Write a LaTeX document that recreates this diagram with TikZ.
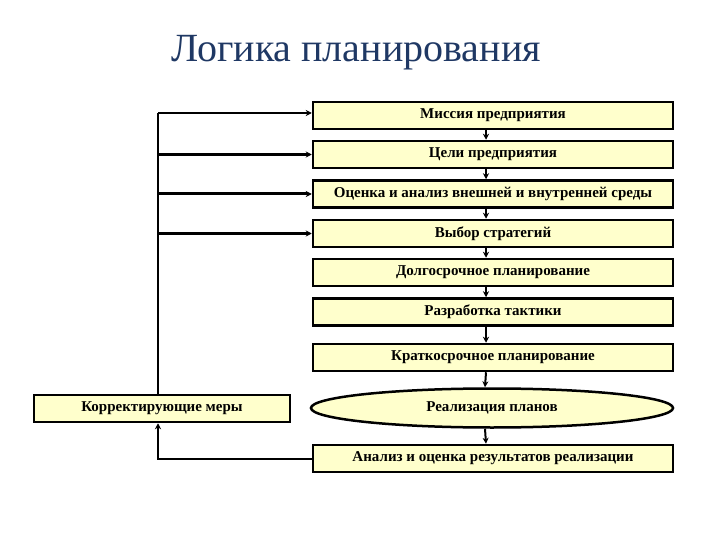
\documentclass[tikz,border=0pt]{standalone}
\usepackage{fontspec}
\setmainfont{Liberation Serif}
\usetikzlibrary{positioning}
\usetikzlibrary{shapes.geometric}
\usetikzlibrary{arrows.meta}

\definecolor{stagefill}{RGB}{255,255,204}
\definecolor{titleblue}{RGB}{31,56,100}

\tikzset{
  stage/.style={draw, line width=2.5pt, fill=stagefill, minimum width=360pt,
    minimum height=27pt, inner sep=0pt, font=\bfseries\fontsize{15}{17}\selectfont},
  flow/.style={-{Stealth[length=6pt,width=6pt]}, line width=2pt},
}

\begin{document}
\begin{tikzpicture}[x=1pt,y=-1pt]
  \useasboundingbox (0,0) rectangle (720,540);

  \node [font=\fontsize{40}{44}\selectfont, text=titleblue] at (356,53) (title) {Логика планирования};

  \node [stage] at (493,115.5) (mission) {Миссия предприятия};
  \node [stage] at (493,154.5) (goals) {Цели предприятия};
  \node [stage] at (493,194) (env) {Оценка и анализ внешней и внутренней среды};
  \node [stage] at (493,233.5) (strat) {Выбор стратегий};
  \node [stage] at (493,272.5) (long) {Долгосрочное планирование};
  \node [stage] at (493,312) (tact) {Разработка тактики};
  \node [stage] at (493,357.5) (short) {Краткосрочное планирование};
  \node [stage, ellipse, minimum height=39pt, minimum width=362pt] at (492,408) (impl) {Реализация планов};
  \node [stage] at (493,458.5) (eval) {Анализ и оценка результатов реализации};
  \node [stage, minimum width=256pt, minimum height=27pt] at (162,408.5) (corr) {Корректирующие меры};

  % main chain
  \foreach \a/\b in {mission/goals, goals/env, env/strat, strat/long, long/tact, tact/short, short/impl, impl/eval}
    \draw [flow] ([xshift=-7pt]\a.south) -- ([xshift=-7pt]\b.north);

  % feedback loop
  \coordinate (loop) at (158,113);
  \draw [line width=2.5pt] (corr.north -| loop) -- (loop);
  \draw [flow] (loop) -- (loop -| mission.west);
  \foreach \n in {goals, env, strat}
    \draw [flow, line width=3pt] (\n.west -| loop) -- (\n.west);
  \draw [flow] (eval.west) -| (corr.south -| loop);
\end{tikzpicture}
\end{document}
